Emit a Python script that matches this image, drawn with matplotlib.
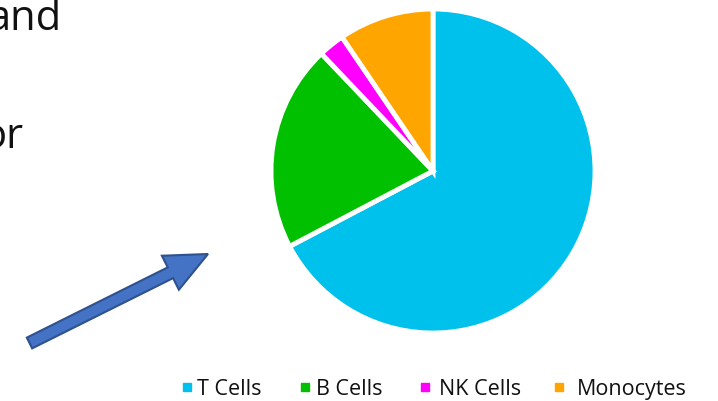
import matplotlib
matplotlib.use("Agg")
import matplotlib.pyplot as plt
from matplotlib.patches import FancyArrow

categories = ["T Cells", "B Cells", "NK Cells", "Monocytes"]
values = [67.3, 20.6, 2.6, 9.5]
colors = ["#00C0EC", "#00C000", "#FF00FF", "#FFA500"]

W, H = 718, 401
fig = plt.figure(figsize=(W / 100, H / 100), dpi=100)
ax = fig.add_axes([0, 0, 1, 1])

ax.pie(values, colors=colors, startangle=90, counterclock=False,
       center=(433, H - 171), radius=162, frame=True,
       wedgeprops=dict(edgecolor="white", linewidth=3.5))
ax.set_xlim(0, W)
ax.set_ylim(0, H)
ax.set_aspect("equal")
ax.axis("off")

font = "Open Sans"
ax.text(61, H - 30, "and", ha="right", va="baseline", fontsize=30,
        family=font, color="#111111")
ax.text(24, H - 148, "or", ha="right", va="baseline", fontsize=30,
        family=font, color="#111111")

arrow = FancyArrow(29.5, H - 343, 178.5, 89, width=12, head_width=38,
                   head_length=42, length_includes_head=True,
                   facecolor="#4472C4", edgecolor="#2F528F", linewidth=1.5)
ax.add_patch(arrow)

# manual legend layout (pixel positions)
marker_x = [187, 305, 424.5, 559]
text_x = [197, 316, 439, 577]
for mx, tx, lab, c in zip(marker_x, text_x, categories, colors):
    ax.plot([mx], [H - 387], marker="s", markersize=5.3, color=c,
            linestyle="none")
    ax.text(tx, H - 395, lab, ha="left", va="baseline", fontsize=15.5,
            family=font, color="#111111")

fig.savefig("out.png", dpi=100)
